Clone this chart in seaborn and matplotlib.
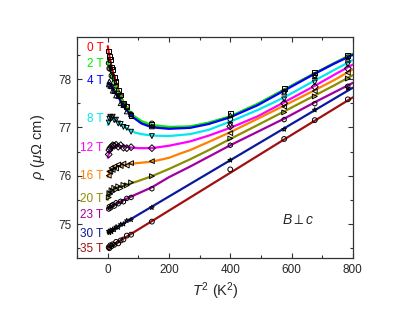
import numpy as np
import pandas as pd
import matplotlib
matplotlib.use("Agg")
import matplotlib.pyplot as plt
from matplotlib.ticker import MultipleLocator
import seaborn as sns

fields = ["0 T", "2 T", "4 T", "8 T", "12 T", "16 T", "20 T", "23 T", "30 T", "35 T"]
colors = ["#ff0000", "#00ee00", "#0000ff", "#00e8f0", "#ff00ff",
          "#ff8000", "#8c8c00", "#a000a0", "#0a1a9a", "#a01010"]
markers = ["s", "o", "^", "v", "D", "<", ">", "h", "*", "o"]
label_rho = [78.65, 78.31, 77.95, 77.18, 76.57, 75.99, 75.51, 75.18, 74.80, 74.48]

# measured points (T^2 in K^2)
t2_pts = [3, 5, 8, 12, 16, 21, 27, 34, 42, 51, 62, 76, 144, 400, 576, 676, 784]
rho_0T = [78.58, 78.46, 78.40, 78.25, 78.19, 78.03, 77.95, 77.76, 77.67, 77.50, 77.43, 77.25, 77.06, 77.29, 77.80, 78.14, 78.49]
rho_2T = [78.33, 78.22, 78.21, 78.07, 78.05, 77.92, 77.86, 77.70, 77.64, 77.48, 77.43, 77.27, 77.08, 77.17, 77.74, 78.08, 78.45]
rho_4T = [77.89, 77.95, 77.86, 77.85, 77.76, 77.75, 77.66, 77.65, 77.50, 77.46, 77.33, 77.27, 77.02, 77.25, 77.72, 78.06, 78.42]
rho_8T = [77.10, 77.18, 77.22, 77.19, 77.22, 77.15, 77.16, 77.08, 77.07, 77.01, 76.99, 76.91, 76.82, 77.05, 77.58, 77.93, 78.30]
rho_12T = [76.44, 76.53, 76.57, 76.60, 76.63, 76.62, 76.64, 76.60, 76.63, 76.58, 76.57, 76.59, 76.57, 77.02, 77.50, 77.84, 78.22]
rho_16T = [76.00, 76.09, 76.08, 76.16, 76.12, 76.19, 76.15, 76.23, 76.20, 76.25, 76.21, 76.26, 76.30, 76.88, 77.43, 77.75, 78.13]
rho_20T = [75.55, 75.64, 75.62, 75.70, 75.67, 75.75, 75.71, 75.78, 75.74, 75.81, 75.80, 75.86, 75.99, 76.77, 77.31, 77.64, 78.01]
rho_23T = [75.31, 75.36, 75.33, 75.38, 75.40, 75.37, 75.44, 75.42, 75.47, 75.46, 75.53, 75.55, 75.73, 76.63, 77.16, 77.49, 77.85]
rho_30T = [74.85, 74.82, 74.87, 74.84, 74.89, 74.88, 74.94, 74.93, 74.99, 75.00, 75.07, 75.09, 75.34, 76.32, 76.96, 77.36, 77.81]
rho_35T = [74.52, 74.50, 74.56, 74.54, 74.58, 74.57, 74.63, 74.60, 74.66, 74.68, 74.76, 74.78, 75.05, 76.13, 76.76, 77.15, 77.58]
pts = [rho_0T, rho_2T, rho_4T, rho_8T, rho_12T, rho_16T, rho_20T, rho_23T, rho_30T, rho_35T]

# fit curves
fit_0T = ([0, 4, 8, 13, 18, 25, 35, 45, 57, 70, 84, 110, 144, 200, 269, 330, 400, 490, 576, 676, 740, 800],
          [78.68, 78.52, 78.39, 78.24, 78.12, 77.97, 77.77, 77.60, 77.46, 77.33, 77.22, 77.11, 77.03, 76.99, 77.01, 77.09, 77.22, 77.48, 77.78, 78.12, 78.33, 78.52])
fit_2T = ([0, 4, 8, 13, 18, 25, 35, 45, 57, 70, 84, 110, 144, 200, 269, 330, 400, 490, 576, 676, 740, 800],
          [78.36, 78.28, 78.19, 78.08, 77.99, 77.87, 77.72, 77.58, 77.45, 77.34, 77.24, 77.13, 77.05, 77.01, 77.02, 77.10, 77.23, 77.49, 77.78, 78.12, 78.33, 78.52])
fit_4T = ([0, 4, 8, 13, 18, 25, 35, 45, 57, 70, 84, 110, 144, 200, 269, 330, 400, 490, 576, 676, 740, 800],
          [77.88, 77.92, 77.88, 77.82, 77.76, 77.70, 77.62, 77.50, 77.39, 77.29, 77.20, 77.08, 77.00, 76.97, 76.99, 77.07, 77.21, 77.46, 77.76, 78.11, 78.32, 78.50])
fit_8T = ([0, 4, 8, 13, 18, 25, 35, 45, 57, 73, 90, 110, 144, 200, 269, 330, 400, 490, 576, 676, 740, 800],
          [77.05, 77.14, 77.19, 77.21, 77.19, 77.15, 77.10, 77.05, 77.00, 76.94, 76.89, 76.86, 76.83, 76.82, 76.86, 76.95, 77.12, 77.36, 77.62, 77.97, 78.19, 78.39])
fit_12T = ([0, 4, 8, 13, 20, 30, 45, 60, 80, 100, 144, 200, 269, 330, 400, 490, 576, 676, 740, 800],
           [76.37, 76.48, 76.55, 76.59, 76.62, 76.62, 76.61, 76.60, 76.58, 76.57, 76.57, 76.62, 76.71, 76.83, 76.99, 77.23, 77.52, 77.86, 78.09, 78.30])
fit_16T = ([0, 4, 8, 13, 18, 30, 51, 70, 95, 144, 200, 237, 269, 330, 400, 490, 576, 676, 740, 800],
           [75.97, 76.05, 76.10, 76.13, 76.15, 76.19, 76.22, 76.24, 76.26, 76.29, 76.37, 76.46, 76.53, 76.70, 76.90, 77.18, 77.45, 77.77, 77.98, 78.20])
fit_20T = ([0, 4, 8, 13, 25, 40, 60, 95, 144, 200, 269, 330, 400, 490, 576, 676, 740, 800],
           [75.50, 75.60, 75.65, 75.68, 75.73, 75.77, 75.81, 75.88, 75.99, 76.14, 76.34, 76.53, 76.76, 77.05, 77.33, 77.66, 77.87, 78.08])
fit_23T = ([0, 20, 50, 84, 144, 200, 269, 400, 576, 676, 800],
           [75.32, 75.40, 75.49, 75.59, 75.76, 75.97, 76.19, 76.63, 77.18, 77.52, 77.92])
fit_30T = ([0, 144, 400, 576, 800],
           [74.82, 75.36, 76.32, 76.98, 77.82])
fit_35T = ([0, 144, 400, 576, 800],
           [74.50, 75.06, 76.06, 76.75, 77.62])
fits = [fit_0T, fit_2T, fit_4T, fit_8T, fit_12T, fit_16T, fit_20T, fit_23T, fit_30T, fit_35T]

sns.set_theme(style="ticks")
plt.rcParams["font.family"] = ["Liberation Sans", "DejaVu Sans"]
plt.rcParams["mathtext.fontset"] = "custom"
plt.rcParams["mathtext.it"] = "Liberation Sans:italic"
plt.rcParams["mathtext.rm"] = "Liberation Sans"

fig = plt.figure(figsize=(4.15, 3.12), dpi=100)
ax = fig.add_axes([0.186, 0.172, 0.664, 0.711])

for i, f in enumerate(fields):
    fx, fy = fits[i]
    sns.lineplot(x=fx, y=fy, color=colors[i], lw=1.6, ax=ax, zorder=2)
    df = pd.DataFrame({"t2": t2_pts, "rho": pts[i]})
    sns.scatterplot(data=df, x="t2", y="rho", marker=markers[i], s=12,
                    facecolor="none", edgecolor="black", linewidth=0.7,
                    ax=ax, zorder=3)
    ax.text(-14, label_rho[i], f, color=colors[i], fontsize=8.5,
            ha="right", va="center")

ax.text(620, 75.08, r"$B \perp c$", fontsize=10, ha="center", va="center")

ax.set_xlim(-100, 800)
ax.set_ylim(74.29, 78.88)
ax.set_xticks([0, 200, 400, 600, 800])
ax.set_yticks([75, 76, 77, 78])
ax.xaxis.set_minor_locator(MultipleLocator(100))
ax.yaxis.set_minor_locator(MultipleLocator(0.5))
ax.tick_params(which="both", direction="in", top=True, right=True,
               labelsize=8.5, width=0.8, color="#333333", pad=4)
ax.tick_params(which="major", length=3.5)
ax.tick_params(which="minor", length=2)
for s in ax.spines.values():
    s.set_linewidth(0.9)
    s.set_color("#333333")

ax.set_xlabel(r"$T^2$ (K$^2$)", fontsize=10.5, labelpad=3)
ax.set_ylabel(r"$\rho$ ($\mu\Omega$ cm)", fontsize=10.5, labelpad=8)

fig.savefig("out.png", dpi=100)
